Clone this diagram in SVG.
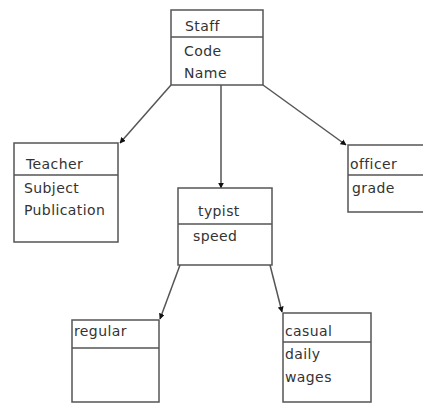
<svg xmlns="http://www.w3.org/2000/svg" width="423" height="407" viewBox="0 0 423 407">
<style>
.box{fill:#fff;stroke:#555;stroke-width:1.5}
.div{stroke:#555;stroke-width:1.5}
.t{font-family:"DejaVu Sans",sans-serif;font-size:14px;letter-spacing:0.4px;fill:#333}
.c{stroke:#555;stroke-width:1.5;fill:none}
</style>
<defs>
<marker id="a" viewBox="0 0 10 10" refX="9" refY="5" markerWidth="4" markerHeight="4" orient="auto"><path d="M0,0L10,5L0,10z" fill="#111"/></marker>
</defs>
<rect width="423" height="407" fill="#fff"/>
<g id="connectors">
<line class="c" x1="171" y1="85" x2="120" y2="143" marker-end="url(#a)"/>
<line class="c" x1="221" y1="85" x2="221" y2="188" marker-end="url(#a)"/>
<line class="c" x1="263" y1="85" x2="346" y2="145" marker-end="url(#a)"/>
<line class="c" x1="180" y1="265" x2="160" y2="319" marker-end="url(#a)"/>
<line class="c" x1="270" y1="265" x2="282" y2="312" marker-end="url(#a)"/>
</g>
<g id="staff">
<rect class="box" x="171" y="10" width="92" height="75"/>
<line class="div" x1="171" y1="37" x2="263" y2="37"/>
<text class="t" x="185" y="31">Staff</text>
<text class="t" x="184" y="56">Code</text>
<text class="t" x="184" y="78">Name</text>
</g>
<g id="teacher">
<rect class="box" x="14" y="143" width="104" height="99"/>
<line class="div" x1="14" y1="175" x2="118" y2="175"/>
<text class="t" x="26" y="169">Teacher</text>
<text class="t" x="24" y="193">Subject</text>
<text class="t" x="24" y="215">Publication</text>
</g>
<g id="typist">
<rect class="box" x="178" y="188" width="94" height="77"/>
<line class="div" x1="178" y1="224" x2="272" y2="224"/>
<text class="t" x="198" y="216">typist</text>
<text class="t" x="193" y="241">speed</text>
</g>
<g id="officer">
<rect class="box" x="348" y="145" width="80" height="67"/>
<line class="div" x1="348" y1="175" x2="428" y2="175"/>
<text class="t" x="350" y="169">officer</text>
<text class="t" x="352" y="193">grade</text>
</g>
<g id="regular">
<rect class="box" x="72" y="320" width="87" height="82"/>
<line class="div" x1="72" y1="348" x2="159" y2="348"/>
<text class="t" x="74" y="336">regular</text>
</g>
<g id="casual">
<rect class="box" x="283" y="313" width="88" height="89"/>
<line class="div" x1="283" y1="342" x2="371" y2="342"/>
<text class="t" x="285" y="336">casual</text>
<text class="t" x="285" y="359">daily</text>
<text class="t" x="285" y="382">wages</text>
</g>
</svg>
